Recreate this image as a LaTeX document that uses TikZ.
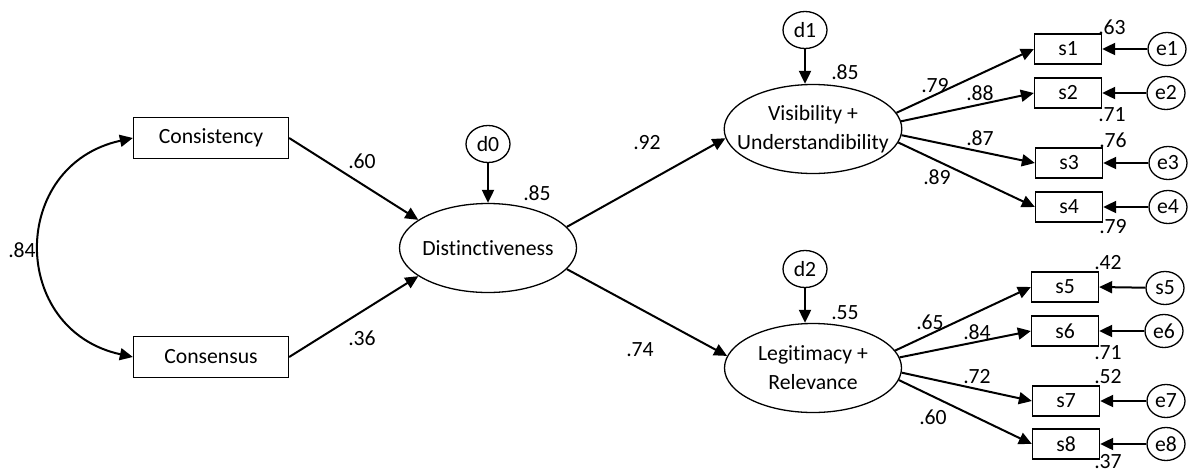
\documentclass[tikz,border=0pt]{standalone}
\usepackage{fontspec}
\setmainfont{Carlito}[Ligatures=NoCommon]
\usetikzlibrary{arrows.meta,shapes.geometric}
\begin{document}
\begin{tikzpicture}[x=1pt,y=-1pt,
  font=\fontsize{21.7}{29}\selectfont,
  box/.style={draw, line width=1.3pt, minimum width=155pt, minimum height=41pt, inner sep=0pt},
  obs/.style={draw, line width=1.3pt, minimum width=67pt, minimum height=30pt, inner sep=0pt},
  lat/.style={draw, ellipse, line width=1.3pt, minimum width=177pt, minimum height=89pt, inner ysep=0pt, inner xsep=-13pt, align=center},
  err/.style={draw, ellipse, line width=1.3pt, minimum width=38pt, minimum height=33pt, inner sep=0pt},
  dist/.style={draw, ellipse, line width=1.3pt, minimum width=44pt, minimum height=37pt, inner sep=0pt},
  arr/.style={-{Triangle[length=13pt,width=12pt]}, line width=2pt},
  lbl/.style={inner sep=0pt}
]
\useasboundingbox (0,0) rectangle (1189,472);

% left
\node[box] (cons) at (211,138) {Consistency};
\node[box] (consen) at (211,357) {Consensus};
\node[lat] (dst) at (488,248) {Distinctiveness};
\node[dist] (d0) at (488,144) {d0};

% latent
\node[lat] (vis) at (813,129) {Visibility +\\Understandibility};
\node[dist] (d1) at (805,30) {d1};
\node[lat] (leg) at (813,368) {Legitimacy +\\Relevance};
\node[dist] (d2) at (805,269) {d2};

% observed
\node[obs] (s1) at (1068,49) {s1};
\node[obs] (s2) at (1068,93) {s2};
\node[obs] (s3) at (1069,163) {s3};
\node[obs] (s4) at (1069,207) {s4};
\node[obs] (s5) at (1065,287) {s5};
\node[obs] (s6) at (1065,331) {s6};
\node[obs] (s7) at (1066,401) {s7};
\node[obs] (s8) at (1066,444) {s8};

\node[err] (e1) at (1167,49) {e1};
\node[err] (e2) at (1166,93) {e2};
\node[err] (e3) at (1168,163) {e3};
\node[err] (e4) at (1168,207) {e4};
\node[err] (e5) at (1165,288) {s5};
\node[err] (e6) at (1164,331) {e6};
\node[err] (e7) at (1166,401) {e7};
\node[err] (e8) at (1166,444) {e8};

% connectors
\draw[{Triangle[length=13pt,width=12pt]}-{Triangle[length=13pt,width=12pt]}, line width=2pt]
  (cons.west) .. controls (9,165) and (9,330) .. (consen.west);
\draw[arr] (cons.east) -- (dst.158);
\draw[arr] (consen.east) -- (dst.202);
\draw[arr] (d0) -- (dst.north);
\draw[arr] (dst.15) -- (vis.186);
\draw[arr] (dst.-15) -- (leg.172);
\draw[arr] (d1) -- (d1 |- vis.north);
\draw[arr] (d2) -- (d2 |- leg.north);

\draw[arr] (vis.11) -- (s1.west);
\draw[arr] (vis.5) -- (s2.west);
\draw[arr] (vis.-4) -- (s3.west);
\draw[arr] (vis.-9) -- (s4.west);
\draw[arr] (leg.12) -- (s5.west);
\draw[arr] (leg.7) -- (s6.west);
\draw[arr] (leg.-3) -- (s7.west);
\draw[arr] (leg.-8) -- (s8.west);

\foreach \i in {1,...,8} {\draw[arr] (e\i) -- (s\i.east);}

% labels
\node[lbl] (l84) at (22,250) {.84};
\node[lbl] (l60) at (362,161) {.60};
\node[lbl] (l36) at (362,338) {.36};
\node[lbl] (r0) at (537,193) {.85};
\node[lbl] (l92) at (647,143) {.92};
\node[lbl] (l74) at (640,350) {.74};
\node[lbl] (r1) at (845,72) {.85};
\node[lbl] (r2) at (845,313) {.55};

\node[lbl] (r63) at (1112,27) {.63};
\node[lbl] (r71) at (1112,115) {.71};
\node[lbl] (r76) at (1113,140) {.76};
\node[lbl] (r79) at (1113,227) {.79};
\node[lbl] (l79) at (935,86) {.79};
\node[lbl] (l88) at (980,93) {.88};
\node[lbl] (l87) at (980,138) {.87};
\node[lbl] (l89) at (937,177) {.89};

\node[lbl] (r42) at (1108,263) {.42};
\node[lbl] (r71b) at (1108,353) {.71};
\node[lbl] (r52) at (1108,377) {.52};
\node[lbl] (r37) at (1108,462) {.37};
\node[lbl] (l65) at (930,322) {.65};
\node[lbl] (l84b) at (977,332) {.84};
\node[lbl] (l72) at (977,377) {.72};
\node[lbl] (l60b) at (933,417) {.60};
\end{tikzpicture}
\end{document}
